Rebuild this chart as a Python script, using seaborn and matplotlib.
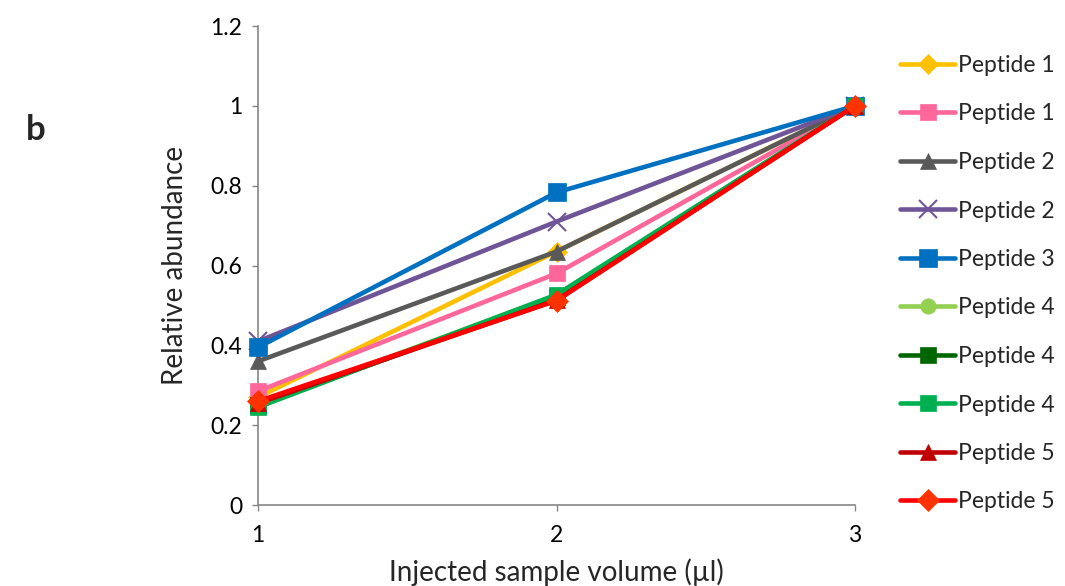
import matplotlib
matplotlib.use("Agg")
import matplotlib.pyplot as plt
import seaborn as sns
import pandas as pd

volumes = [1, 2, 3]
labels = ["Peptide 1", "Peptide 1", "Peptide 2", "Peptide 2", "Peptide 3",
          "Peptide 4", "Peptide 4", "Peptide 4", "Peptide 5", "Peptide 5"]
s1 = [0.27, 0.635, 1.0]
s2 = [0.285, 0.58, 1.0]
s3 = [0.36, 0.635, 1.0]
s4 = [0.41, 0.71, 1.0]
s5 = [0.395, 0.783, 1.0]
s6 = [0.25, 0.525, 1.0]
s7 = [0.25, 0.52, 1.0]
s8 = [0.245, 0.527, 1.0]
s9 = [0.255, 0.513, 1.0]
s10 = [0.26, 0.512, 1.0]
series = [s1, s2, s3, s4, s5, s6, s7, s8, s9, s10]
colors = ["#FFC000", "#FF6699", "#595959", "#6F5597", "#0070C0",
          "#92D050", "#006600", "#00B050", "#C00000", "#FF0000"]
markers = ["D", "s", "^", "x", "s", "o", "s", "s", "^", "D"]
msizes = [10, 12, 12, 13, 13, 11, 12, 12, 12, 11]
mcolors = [None] * 10
mcolors[9] = "#FF3300"

sns.set_theme(style="white")
plt.rcParams['font.family'] = ['Lato', 'DejaVu Sans']

fig = plt.figure(figsize=(10.65, 5.86), dpi=100)
ax = fig.add_axes([258/1065, 1-505/586, (855-258)/1065, (505-26)/586])

for i, (vals, lab, c, m, ms) in enumerate(zip(series, labels, colors, markers, msizes)):
    df = pd.DataFrame({"x": volumes, "y": vals})
    mc = mcolors[i] or c
    sns.lineplot(data=df, x="x", y="y", ax=ax, color=c, linewidth=3.3,
                 marker=m, markersize=ms, markeredgecolor=mc, markerfacecolor=mc,
                 markeredgewidth=1.5 if m == "x" else 0.5, label=lab, zorder=3+i,
                 clip_on=False)

ax.set_xlim(1, 3)
ax.set_ylim(0, 1.2)
ax.set_xticks([1, 2, 3])
ax.set_xticklabels(["1", "2", "3"])
ax.set_yticks([0, 0.2, 0.4, 0.6, 0.8, 1.0, 1.2])
ax.set_yticklabels(["0", "0.2", "0.4", "0.6", "0.8", "1", "1.2"])
ax.tick_params(axis="both", labelsize=16.5, colors="#868686", labelcolor="#000000",
               length=4.5, width=1, direction="out", left=True, bottom=True, pad=7)
ax.tick_params(axis="x", pad=10)
for sp in ["top", "right"]:
    ax.spines[sp].set_visible(False)
for sp in ["left", "bottom"]:
    ax.spines[sp].set_color("#868686")
    ax.spines[sp].set_linewidth(1.2)
ax.set_xlabel("Injected sample volume (µl)", fontsize=20, labelpad=9)
ax.set_ylabel("Relative abundance", fontsize=20, labelpad=16)
ax.grid(False)

leg = ax.legend(loc="upper left", bbox_to_anchor=(900/1065, 1-55/586),
                bbox_transform=fig.transFigure, frameon=False,
                fontsize=16.5, handlelength=2.4, handletextpad=0.15,
                labelspacing=1.2, borderaxespad=0.0, borderpad=0.0)

fig.text(26/1065, 1-130/586, "b", fontsize=25, fontweight="bold", va="center")

fig.savefig("out.png", dpi=100)
